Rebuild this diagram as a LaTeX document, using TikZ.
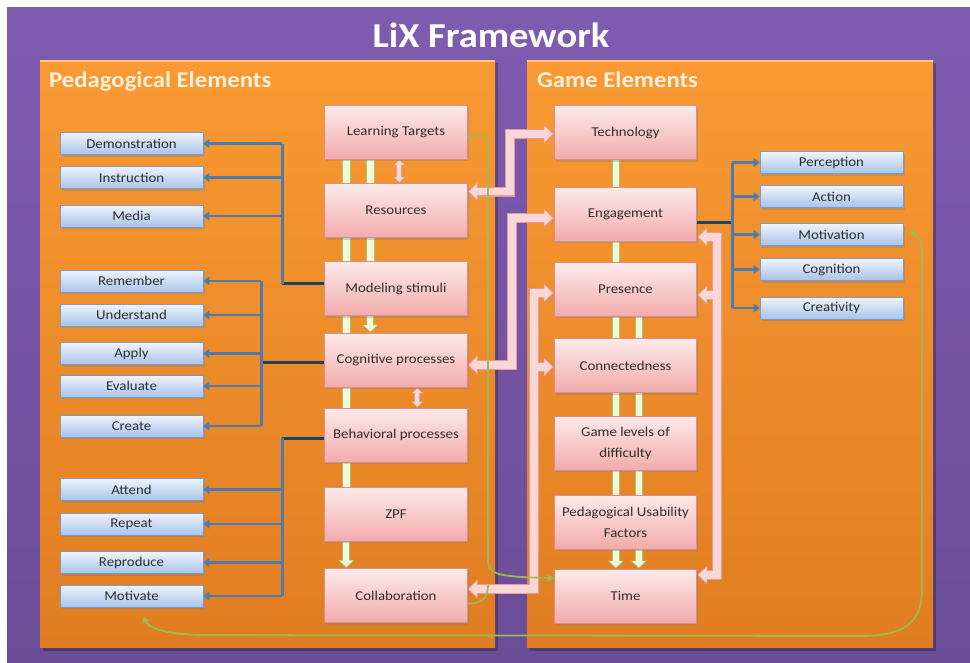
\documentclass[tikz,border=0pt]{standalone}
\usepackage{fontspec}
\setmainfont{Carlito}[FakeStretch=1.1]
\usetikzlibrary{arrows.meta,shadows,calc}
\pgfdeclarelayer{back}
\pgfdeclarelayer{mid}
\pgfsetlayers{back,mid,main}
\definecolor{purpT}{HTML}{7E5CB0}
\definecolor{purpB}{HTML}{6A4D97}
\definecolor{orT}{HTML}{F99A33}
\definecolor{orB}{HTML}{E07D22}
\definecolor{orLine}{HTML}{FCCB72}
\definecolor{pkT}{HTML}{FDEAEA}
\definecolor{pkB}{HTML}{F2ABAB}
\definecolor{pkD}{HTML}{D98E8C}
\definecolor{blT}{HTML}{EFF4FC}
\definecolor{blB}{HTML}{A8C3EA}
\definecolor{blD}{HTML}{7D9BC8}
\definecolor{barF}{HTML}{F1F9DC}
\definecolor{barD}{HTML}{A8C65E}
\definecolor{arF}{HTML}{FBD6D6}
\definecolor{arD}{HTML}{E39C9C}
\definecolor{gln}{HTML}{9EBB50}
\definecolor{bln}{HTML}{4E7BAD}
\definecolor{blnD}{HTML}{22405F}
\definecolor{txt}{HTML}{2E2E2E}
\definecolor{headtxt}{HTML}{FFF1DE}
\newcommand\arrowset[1]{%
  \draw[pk#1,<->] ($(res.east)+(0,-19)$) -- (510,191.5) -- (510,134) -- ($(tech.west)+(0,1.5)$);
  \draw[pk#1,<->] ($(cog.east)+(0,5)$) -- (512,365) -- (512,218) -- ($(eng.west)+(0,4)$);
  \draw[pk#1,<->] ($(col.east)+(0,-6.5)$) -- (534,589) -- (534,293) -- ($(pres.west)+(0,4)$);
  \draw[pk#1,->] (534,367) -- ($(conn.west)+(0,1.5)$);
  \draw[pk#1,<->] ($(eng.east)+(0,23)$) -- (717,237) -- (717,575) -- ($(time.east)+(0,-21)$);
  \draw[pk#1,->] (717,295) -- ($(pres.east)+(0,6)$);
  \draw[pks#1,<->] ($(lt.south west)+(75,0)$) -- ($(res.north west)+(75,0)$);
  \draw[pks#1,<->] ($(cog.south west)+(93,0)$) -- ($(beh.north west)+(93,0)$);
  \draw[ga#1,->] ($(mod.south west)+(46,-3)$) -- ($(cog.north west)+(46,0)$);
  \draw[ga#1,->] ($(zpf.south west)+(22,-3)$) -- ($(col.north west)+(22,0)$);
  \draw[ga#1,->] ($(puf.south west)+(62,-3)$) -- ($(time.north west)+(62,0)$);
  \draw[ga#1,->] ($(puf.south west)+(85,-3)$) -- ($(time.north west)+(85,0)$);
}
\begin{document}
\begin{tikzpicture}[x=1pt,y=-1pt,
  shad/.style={drop shadow={shadow xshift=1.5pt,shadow yshift=-2pt,opacity=0.35}},
  pinkbox/.style={draw=pkD,line width=0.8pt,top color=pkT,bottom color=pkB,
    minimum width=142.5pt,minimum height=54pt,inner sep=2pt,align=center,text=txt,
    font=\fontsize{13.5}{21}\selectfont,shad},
  bluebox/.style={draw=blD,line width=0.8pt,top color=blT,bottom color=blB,
    minimum width=143pt,minimum height=22pt,inner sep=1pt,text=txt,
    font=\fontsize{13.5}{16}\selectfont,shad},
  gbar/.style={draw=barD,line width=0.8pt,fill=barF},
  pkout/.style={draw=arD,line width=10pt,line join=miter,>={Triangle[length=10pt,width=19pt]}},
  pkin/.style={draw=arF,line width=7.6pt,line join=miter,shorten >=1.3pt,shorten <=1.3pt,
    >={Triangle[length=8.2pt,width=15.6pt]}},
  pksout/.style={draw=arD,line width=6pt,>={Triangle[length=6pt,width=12pt]}},
  pksin/.style={draw=arF,line width=4pt,shorten >=1pt,shorten <=1pt,
    >={Triangle[length=4.8pt,width=9.4pt]}},
  gaout/.style={draw=barD,line width=8pt,>={Triangle[length=8pt,width=16pt]}},
  gain/.style={draw=barF,line width=6pt,shorten >=1.1pt,
    >={Triangle[length=6.4pt,width=12.8pt]}},
  bline/.style={draw=bln,line width=2.8pt},
  barrow/.style={bline,-{Triangle[length=6pt,width=9pt]}},
  bstub/.style={draw=blnD,line width=3pt},
  gline/.style={draw=gln,line width=1.8pt},
  gtip/.style={>={Stealth[length=7pt,width=8pt]}},
  headfont/.style={font=\bfseries\fontsize{22.5}{26}\selectfont,text=headtxt,anchor=base west,inner sep=0pt}
]
\useasboundingbox (0,0) rectangle (970,662);
\begin{pgfonlayer}{back}
  \fill[white] (0,0) rectangle (970,662);
  \fill[top color=purpT,bottom color=purpB] (7,7) rectangle (970,662);
  \fill[black,opacity=0.25] (43,63) rectangle (498,651);
  \fill[black,opacity=0.25] (530,63) rectangle (936,651);
  \fill[top color=orT,bottom color=orB] (40,60) rectangle (495,647);
  \fill[top color=orT,bottom color=orB] (527,60) rectangle (933,647);
  \draw[orLine,line width=1.5pt] (40,60.75) -- (495,60.75);
  \draw[orLine,line width=1.5pt] (527,60.75) -- (933,60.75);
\end{pgfonlayer}

\node[font=\bfseries\fontsize{35}{40}\selectfont,text=white,anchor=base,inner sep=0pt] (title) at (491,47) {LiX Framework};
\node[headfont] (pedh) at (49,87) {Pedagogical Elements};
\node[headfont] (gameh) at (537,87) {Game Elements};

% pink boxes
\node[pinkbox] (lt) at (396,132) {Learning Targets};
\node[pinkbox] (res) at (396,210.5) {Resources};
\node[pinkbox] (mod) at (396,288.5) {Modeling stimuli};
\node[pinkbox] (cog) at (396,360) {Cognitive processes};
\node[pinkbox] (beh) at (396,435) {Behavioral processes};
\node[pinkbox] (zpf) at (396,514) {ZPF};
\node[pinkbox] (col) at (396,595.5) {Collaboration};
\node[pinkbox] (tech) at (625.5,132.5) {Technology};
\node[pinkbox] (eng) at (625.5,214) {Engagement};
\node[pinkbox] (pres) at (625.5,289) {Presence};
\node[pinkbox] (conn) at (625.5,365.5) {Connectedness};
\node[pinkbox] (glvl) at (625.5,443) {Game levels of\\difficulty};
\node[pinkbox] (puf) at (625.5,522) {Pedagogical Usability\\Factors};
\node[pinkbox] (time) at (625.5,596) {Time};

% blue boxes
\node[bluebox] (demo) at (131.5,143.5) {Demonstration};
\node[bluebox] (instr) at (131.5,177.5) {Instruction};
\node[bluebox] (media) at (131.5,216) {Media};
\node[bluebox] (rem) at (131.5,281) {Remember};
\node[bluebox] (und) at (131.5,315) {Understand};
\node[bluebox] (apply) at (131.5,353.5) {Apply};
\node[bluebox] (eval) at (131.5,386) {Evaluate};
\node[bluebox] (crea) at (131.5,426) {Create};
\node[bluebox] (att) at (131.5,489.5) {Attend};
\node[bluebox] (rep) at (131.5,524) {Repeat};
\node[bluebox] (repr) at (131.5,562.5) {Reproduce};
\node[bluebox] (motv) at (131.5,596) {Motivate};
\node[bluebox] (perc) at (831.5,162.5) {Perception};
\node[bluebox] (act) at (831.5,196.5) {Action};
\node[bluebox] (motn) at (831.5,234.5) {Motivation};
\node[bluebox] (cogn) at (831.5,269.5) {Cognition};
\node[bluebox] (crtv) at (831.5,308) {Creativity};

% green bars and block arrows
\begin{pgfonlayer}{mid}
  \draw[gbar] ($(lt.south west)+(18,-2)$) rectangle ($(res.north west)+(26,2)$);
  \draw[gbar] ($(lt.south west)+(42,-2)$) rectangle ($(res.north west)+(50,2)$);
  \draw[gbar] ($(res.south west)+(18,-2)$) rectangle ($(mod.north west)+(26,2)$);
  \draw[gbar] ($(res.south west)+(42,-2)$) rectangle ($(mod.north west)+(50,2)$);
  \draw[gbar] ($(mod.south west)+(18,-2)$) rectangle ($(cog.north west)+(26,2)$);
  \draw[gbar] ($(cog.south west)+(18,-2)$) rectangle ($(beh.north west)+(26,2)$);
  \draw[gbar] ($(beh.south west)+(18,-2)$) rectangle ($(zpf.north west)+(26,2)$);
  \draw[gbar] ($(tech.south west)+(59,-2)$) rectangle ($(eng.north west)+(66,2)$);
  \draw[gbar] ($(eng.south west)+(59,-2)$) rectangle ($(pres.north west)+(66,2)$);
  \draw[gbar] ($(pres.south west)+(59,-2)$) rectangle ($(conn.north west)+(66,2)$);
  \draw[gbar] ($(pres.south west)+(82,-2)$) rectangle ($(conn.north west)+(89,2)$);
  \draw[gbar] ($(conn.south west)+(59,-2)$) rectangle ($(glvl.north west)+(66,2)$);
  \draw[gbar] ($(conn.south west)+(82,-2)$) rectangle ($(glvl.north west)+(89,2)$);
  \draw[gbar] ($(glvl.south west)+(59,-2)$) rectangle ($(puf.north west)+(66,2)$);
  \draw[gbar] ($(glvl.south west)+(82,-2)$) rectangle ($(puf.north west)+(89,2)$);
  \arrowset{out}
  \arrowset{in}
\end{pgfonlayer}

% blue connectors
\draw[bstub] ($(mod.west)+(0,-5)$) -- ++(-42,0) coordinate (bus1);
\draw[bline] (bus1) -- (bus1 |- demo.east);
\foreach \n in {demo,instr,media} \draw[barrow] (bus1 |- \n.east) -- (\n.east);
\draw[bstub] ($(cog.west)+(0,2)$) -- ++(-63,0) coordinate (bus2);
\draw[bline] (bus2 |- rem.east) -- (bus2 |- crea.east);
\foreach \n in {rem,und,apply,eval,crea} \draw[barrow] (bus2 |- \n.east) -- (\n.east);
\draw[bstub] ($(beh.west)+(0,3)$) -- ++(-42,0) coordinate (bus3);
\draw[bline] (bus3) -- (bus3 |- motv.east);
\foreach \n in {att,rep,repr,motv} \draw[barrow] (bus3 |- \n.east) -- (\n.east);
\draw[bstub] ($(eng.east)+(0,8)$) -- ++(35,0) coordinate (bus4);
\draw[bline] (bus4 |- perc.west) -- (bus4 |- crtv.west);
\foreach \n in {perc,act,motn,cogn,crtv} \draw[barrow] (bus4 |- \n.west) -- (\n.west);

% green curved connectors
\draw[gline,gtip,->] ($(lt.east)+(0,5)$) .. controls (481,136) and (488,131) .. (488,148)
  -- (488,560) .. controls (488,574) and (496,577) .. ($(time.west)+(0,-18)$);
\draw[gline] ($(col.east)+(0,8)$) .. controls (482,604) and (488,598) .. (488,585);
\draw[gline,gtip,<->] ($(motv.south)+(12,9)$) .. controls (148,628) and (165,634) .. (200,635)
  -- (860,636) .. controls (905,636) and (922,622) .. (922,590)
  -- (922,255) .. controls (922,240) and (916,233) .. ($(motn.east)+(5,-2)$);
\end{tikzpicture}
\end{document}
